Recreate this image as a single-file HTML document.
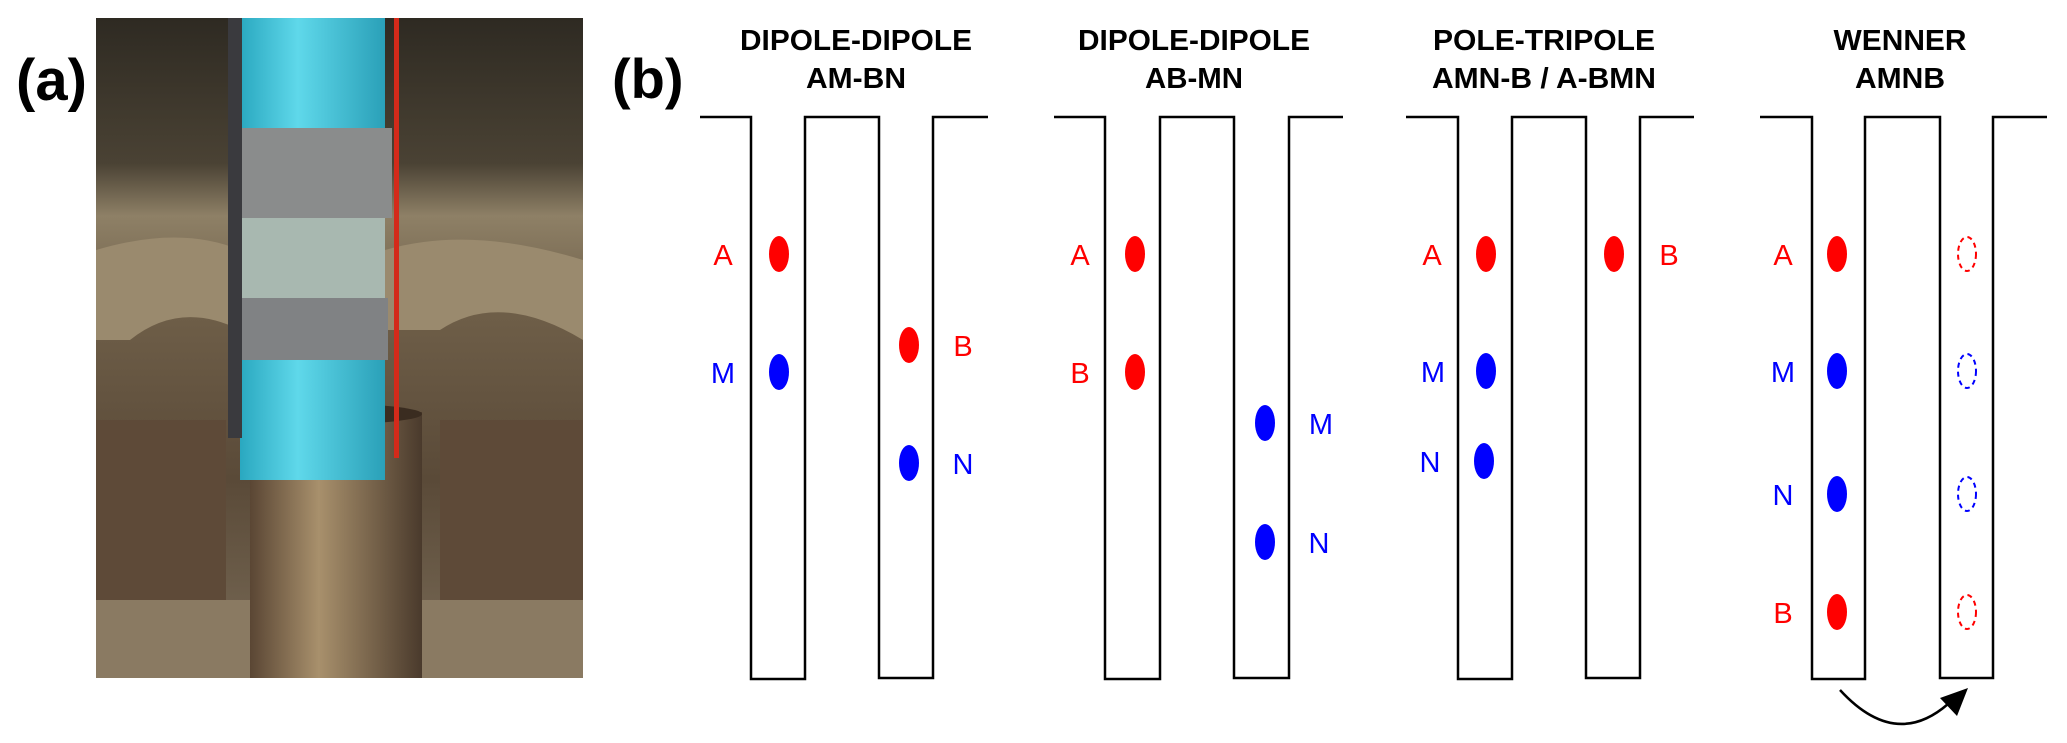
<!DOCTYPE html>
<html><head><meta charset="utf-8"><style>
html,body{margin:0;padding:0;background:#fff;}
svg{display:block;}
</style></head><body>
<svg width="2067" height="743" viewBox="0 0 2067 743" xmlns="http://www.w3.org/2000/svg">
<defs>
<linearGradient id="bg" x1="0" y1="0" x2="0" y2="1">
<stop offset="0" stop-color="#2e2a22"/><stop offset="0.22" stop-color="#4a4234"/>
<stop offset="0.3" stop-color="#8e8066"/><stop offset="0.45" stop-color="#6e5e48"/>
<stop offset="0.7" stop-color="#5a4a38"/><stop offset="1" stop-color="#7a6c58"/>
</linearGradient>
<linearGradient id="pipe" x1="0" y1="0" x2="1" y2="0">
<stop offset="0" stop-color="#2aa8c0"/><stop offset="0.4" stop-color="#5fd8ea"/><stop offset="1" stop-color="#2aa0b8"/>
</linearGradient>
<linearGradient id="casing" x1="0" y1="0" x2="1" y2="0">
<stop offset="0" stop-color="#5a4634"/><stop offset="0.4" stop-color="#a8906c"/><stop offset="1" stop-color="#4a3a2c"/>
</linearGradient>
</defs>
<!-- photo -->
<rect x="96" y="18" width="487" height="660" fill="url(#bg)"/>
<path d="M96 250 Q180 225 240 250 L240 330 Q180 300 130 340 L96 340 Z" fill="#9a8a6e"/>
<path d="M385 250 Q470 225 583 260 L583 340 Q500 290 440 330 L385 330 Z" fill="#9a8a6e"/>
<rect x="96" y="420" width="130" height="200" fill="#5e4a38"/>
<rect x="440" y="420" width="143" height="200" fill="#5e4a38"/>
<rect x="96" y="600" width="487" height="78" fill="#8a7a62"/>
<rect x="250" y="412" width="172" height="266" fill="url(#casing)"/>
<ellipse cx="336" cy="414" rx="86" ry="10" fill="#3a2c20"/>
<rect x="240" y="18" width="145" height="462" fill="url(#pipe)"/>
<rect x="232" y="128" width="160" height="90" fill="#8a8c8c"/>
<rect x="240" y="218" width="145" height="80" fill="#a8b8b0"/>
<rect x="238" y="298" width="150" height="62" fill="#808284"/>
<rect x="228" y="18" width="14" height="420" fill="#3a3a3e"/>
<rect x="394" y="18" width="5" height="440" fill="#d42a1a"/>
<!-- labels -->
<text x="16" y="100" font-family="Liberation Sans, sans-serif" font-weight="bold" font-size="58">(a)</text>
<text x="612" y="98" font-family="Liberation Sans, sans-serif" font-weight="bold" font-size="56">(b)</text>
<g font-family="Liberation Sans, sans-serif" font-weight="bold" font-size="29" text-anchor="middle" fill="#000">
<text x="856" y="50" textLength="232" lengthAdjust="spacingAndGlyphs">DIPOLE-DIPOLE</text>
<text x="856" y="88" textLength="100" lengthAdjust="spacingAndGlyphs">AM-BN</text>
<text x="1194" y="50" textLength="232" lengthAdjust="spacingAndGlyphs">DIPOLE-DIPOLE</text>
<text x="1194" y="88" textLength="98" lengthAdjust="spacingAndGlyphs">AB-MN</text>
<text x="1544" y="50" textLength="222" lengthAdjust="spacingAndGlyphs">POLE-TRIPOLE</text>
<text x="1544" y="88" textLength="224" lengthAdjust="spacingAndGlyphs">AMN-B / A-BMN</text>
<text x="1900" y="50" textLength="133" lengthAdjust="spacingAndGlyphs">WENNER</text>
<text x="1900" y="88" textLength="90" lengthAdjust="spacingAndGlyphs">AMNB</text>
</g>
<!-- boreholes -->
<g fill="none" stroke="#000" stroke-width="2.5">
<path d="M700 117 H751 V679 H805 V117 H879 V678 H933 V117 H988"/>
<path d="M1054 117 H1105 V679 H1160 V117 H1234 V678 H1289 V117 H1343"/>
<path d="M1406 117 H1458 V679 H1512 V117 H1586 V678 H1640 V117 H1694"/>
<path d="M1760 117 H1812 V679 H1865 V117 H1940 V678 H1993 V117 H2047"/>
</g>
<g>
<ellipse cx="779" cy="254" rx="10" ry="18" fill="#f00"/>
<ellipse cx="779" cy="372" rx="10" ry="18" fill="#00f"/>
<ellipse cx="909" cy="345" rx="10" ry="18" fill="#f00"/>
<ellipse cx="909" cy="463" rx="10" ry="18" fill="#00f"/>
<ellipse cx="1135" cy="254" rx="10" ry="18" fill="#f00"/>
<ellipse cx="1135" cy="372" rx="10" ry="18" fill="#f00"/>
<ellipse cx="1265" cy="423" rx="10" ry="18" fill="#00f"/>
<ellipse cx="1265" cy="542" rx="10" ry="18" fill="#00f"/>
<ellipse cx="1486" cy="254" rx="10" ry="18" fill="#f00"/>
<ellipse cx="1486" cy="371" rx="10" ry="18" fill="#00f"/>
<ellipse cx="1484" cy="461" rx="10" ry="18" fill="#00f"/>
<ellipse cx="1614" cy="254" rx="10" ry="18" fill="#f00"/>
<ellipse cx="1837" cy="254" rx="10" ry="18" fill="#f00"/>
<ellipse cx="1837" cy="371" rx="10" ry="18" fill="#00f"/>
<ellipse cx="1837" cy="494" rx="10" ry="18" fill="#00f"/>
<ellipse cx="1837" cy="612" rx="10" ry="18" fill="#f00"/>
</g>
<g fill="none" stroke-width="2" stroke-dasharray="5 4">
<ellipse cx="1967" cy="254" rx="9" ry="17" stroke="#f00"/>
<ellipse cx="1967" cy="371" rx="9" ry="17" stroke="#00f"/>
<ellipse cx="1967" cy="494" rx="9" ry="17" stroke="#00f"/>
<ellipse cx="1967" cy="612" rx="9" ry="17" stroke="#f00"/>
</g>
<g font-family="Liberation Sans, sans-serif" font-size="29" text-anchor="middle">
<text x="723" y="265" fill="#f00">A</text>
<text x="723" y="383" fill="#00f">M</text>
<text x="963" y="356" fill="#f00">B</text>
<text x="963" y="474" fill="#00f">N</text>
<text x="1080" y="265" fill="#f00">A</text>
<text x="1080" y="383" fill="#f00">B</text>
<text x="1321" y="434" fill="#00f">M</text>
<text x="1319" y="553" fill="#00f">N</text>
<text x="1432" y="265" fill="#f00">A</text>
<text x="1433" y="382" fill="#00f">M</text>
<text x="1430" y="472" fill="#00f">N</text>
<text x="1669" y="265" fill="#f00">B</text>
<text x="1783" y="265" fill="#f00">A</text>
<text x="1783" y="382" fill="#00f">M</text>
<text x="1783" y="505" fill="#00f">N</text>
<text x="1783" y="623" fill="#f00">B</text>
</g>
<path d="M1840 690 Q1895 750 1948 704" fill="none" stroke="#000" stroke-width="2.5"/>
<path d="M1968 688 L1940 698 L1957 716 Z" fill="#000"/>
</svg>
</body></html>
